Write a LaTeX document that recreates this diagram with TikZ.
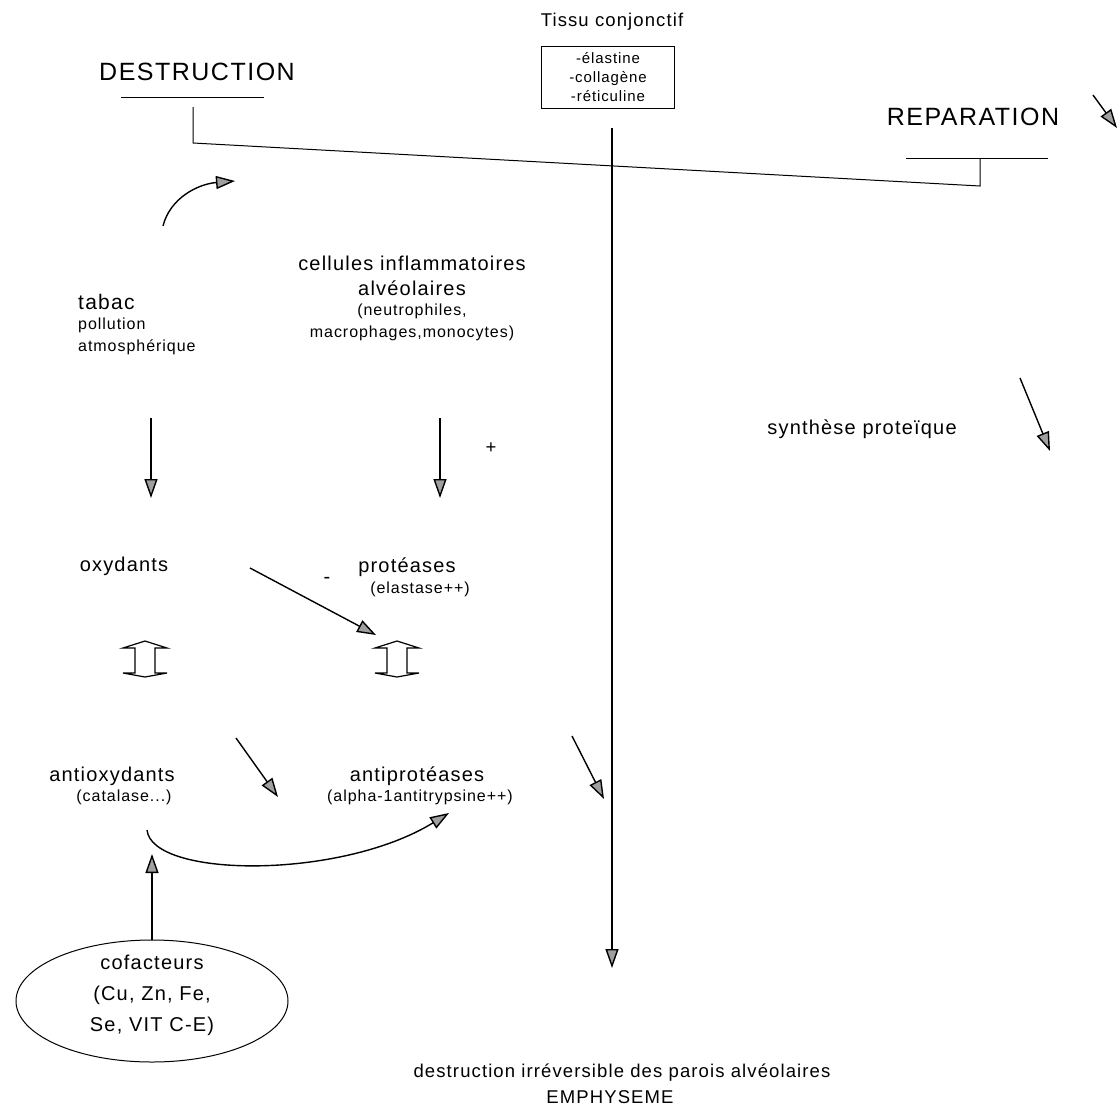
\documentclass[tikz,border=0pt]{standalone}
\usepackage{fontspec}
\setmainfont{Liberation Sans}[LetterSpace=6]
\usetikzlibrary{arrows.meta,shapes.geometric}
\begin{document}
\begin{tikzpicture}[x=1pt,y=-1pt,
  lw/.style={line width=1.4pt},
  thin line/.style={line width=1pt},
  arr/.style={lw,-{Triangle[length=19pt,width=13pt,fill=gray!75]}},
  txt/.style={inner sep=0pt,align=center},
  t24/.style={txt,font=\fontsize{25}{28}\selectfont},
  t20/.style={txt,font=\fontsize{20}{24}\selectfont},
  t18/.style={txt,font=\fontsize{18.5}{22}\selectfont},
  t16/.style={txt,font=\fontsize{16}{20}\selectfont},
  t15/.style={txt,font=\fontsize{15}{19}\selectfont}
]
\useasboundingbox (0,0) rectangle (1119,1119);

% ---- top ----
\node[t18] (tissu) at (612,22) {Tissu conjonctif};
\node[draw,thin line,t15,minimum width=133pt,minimum height=62pt] (box) at (608,77)
  {-élastine\\-collagène\\-réticuline};

\node[t24] (destr) at (197,72) {DESTRUCTION};
\coordinate (dU1) at (121,97);
\coordinate (dU2) at (264,97);
\draw[thin line] (dU1) -- (dU2);
\coordinate (dV1) at (193,107);
\coordinate (dJ) at (193,143);
\coordinate (rJ) at (980,186);
\coordinate (rV1) at (980,158);
\draw[thin line] (dV1) -- (dJ) -- (rJ) -- (rV1);

\node[t24] (repar) at (973,117) {REPARATION};
\coordinate (rU1) at (906,158);
\coordinate (rU2) at (1048,158);
\draw[thin line] (rU1) -- (rU2);

\coordinate (tr1) at (1093,95);
\coordinate (tr2) at (1117,128);
\draw[arr] (tr1) -- (tr2);

% long vertical
\coordinate (vTop) at (612,128);
\coordinate (vBot) at (612,968);
\draw[arr] (vTop) -- (vBot);

% ---- middle ----
\node[t20] (cell1) at (412,263) {cellules inflammatoires};
\node[t20] (cell2) at (412,288) {alvéolaires};
\node[t16] (cell3) at (412,311) {(neutrophiles,};
\node[t16] (cell4) at (412,333) {macrophages,monocytes)};

\node[t20,font=\fontsize{21}{24}\selectfont,anchor=west] (tabac) at (78,302) {tabac};
\node[t16,anchor=west] (poll) at (78,325) {pollution};
\node[t16,anchor=west] (atmo) at (78,347) {atmosphérique};

\coordinate (cA) at (163,226);
\coordinate (cB) at (235,181);
\draw[arr] (cA) .. controls (170,198) and (198,184) .. (cB);

\coordinate (tD1) at (151,418);
\coordinate (tD2) at (151,498);
\draw[arr] (tD1) -- (tD2);
\coordinate (cD1) at (440,418);
\coordinate (cD2) at (440,498);
\draw[arr] (cD1) -- (cD2);

\node[t18] (plus) at (491,448) {+};

\node[t20] (oxy) at (124,566) {oxydants};
\node[t20] (prot) at (407,567) {protéases};
\node[t16] (elast) at (420,589) {(elastase++)};
\node[t20] (minus) at (327,580) {-};

\coordinate (oA) at (250,568);
\coordinate (oB) at (376,635);
\draw[arr] (oA) -- (oB);

% double arrows (outlined)
\foreach \cx/\nm in {145/dblL,397/dblR}{
  \coordinate (\nm) at (\cx,659);
  \draw[line width=1.2pt,shift={(\nm)}]
    (-22,-11) -- (0,-18) -- (22,-11) -- (10,-11) -- (10,14) -- (22,14)
    -- (0,18) -- (-22,14) -- (-10,14) -- (-10,-11) -- cycle;
}

\node[t20] (antiox) at (112,776) {antioxydants};
\node[t16] (catal) at (124,797) {(catalase...)};
\node[t20] (antiprot) at (417,776) {antiprotéases};
\node[t16] (alpha) at (420,797) {(alpha-1antitrypsine++)};

\coordinate (aA) at (236,738);
\coordinate (aB) at (278,797);
\draw[arr] (aA) -- (aB);
\coordinate (pA) at (572,736);
\coordinate (pB) at (604,799);
\draw[arr] (pA) -- (pB);

\coordinate (bA) at (147,830);
\coordinate (bB) at (449,813);
\draw[arr] (bA) .. controls (152,878) and (340,880) .. (bB);

% cofactors
\node[ellipse,draw,thin line,txt,
  minimum width=272pt,minimum height=122pt] (cof) at (152,1001) {};
\node[txt,font=\fontsize{20}{31}\selectfont] (coftext) at (152,995)
  {cofacteurs\\(Cu, Zn, Fe,\\Se, VIT C-E)};
\coordinate (upTip) at (152,854);
\draw[arr] (cof.north) -- (upTip);

% right
\node[t20] (synth) at (862,429) {synthèse proteïque};
\coordinate (sA) at (1020,378);
\coordinate (sB) at (1050,451);
\draw[arr] (sA) -- (sB);

% bottom
\node[t18] (destrirr) at (622,1073) {destruction irréversible des parois alvéolaires};
\node[t18] (emph) at (610,1097) {EMPHYSEME};
\end{tikzpicture}
\end{document}
